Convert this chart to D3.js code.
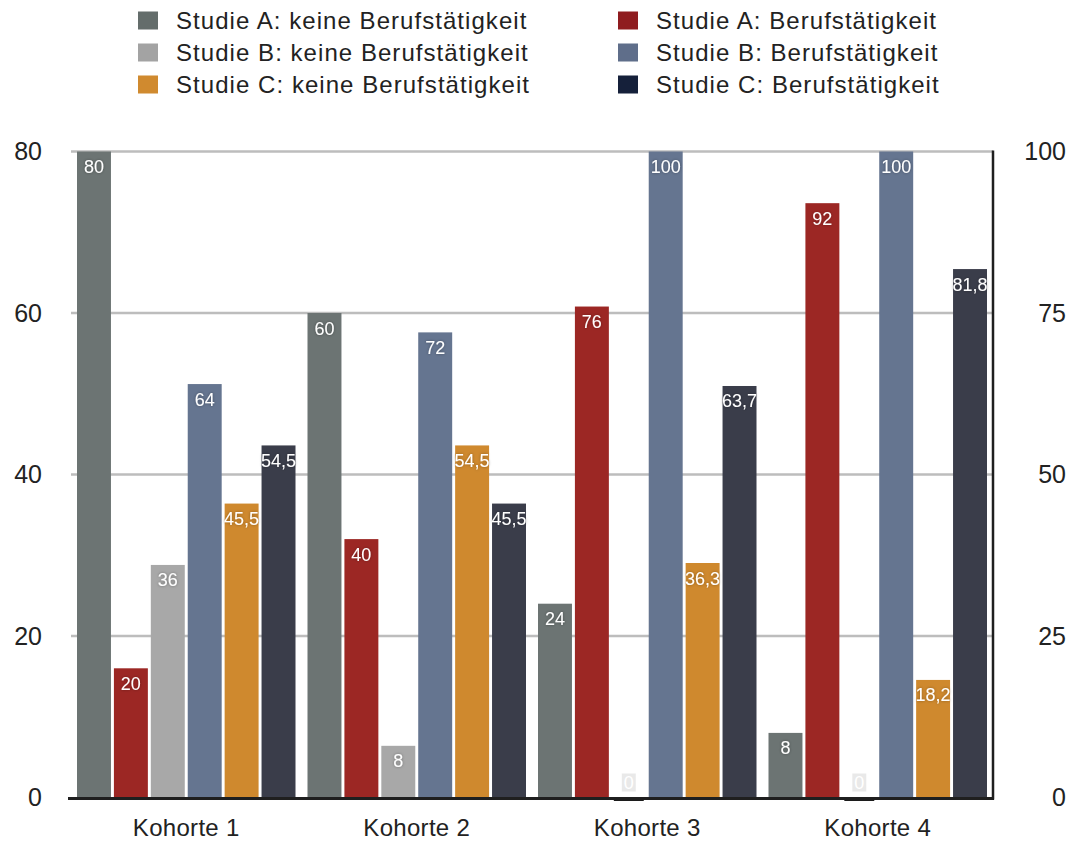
<!DOCTYPE html>
<html>
<head>
<meta charset="utf-8">
<script src="https://cdn.jsdelivr.net/npm/d3@7"></script>
<style>
  html, body { margin: 0; padding: 0; background: #fff; }
  svg { display: block; font-family: "Liberation Sans", Arial, Helvetica, sans-serif; }
</style>
</head>
<body>
<svg id="chart" width="1074" height="841"></svg>
<script>
// Kohorten (x categories)
const cohorts = ["Kohorte 1", "Kohorte 2", "Kohorte 3", "Kohorte 4"];

// Series names, in drawing order inside each cohort
const seriesNames = [
  "Studie A: keine Berufstätigkeit",
  "Studie A: Berufstätigkeit",
  "Studie B: keine Berufstätigkeit",
  "Studie B: Berufstätigkeit",
  "Studie C: keine Berufstätigkeit",
  "Studie C: Berufstätigkeit"
];

// Values per series (one per cohort)
const studieAKeine = [80, 60, 24, 8];
const studieABeruf = [20, 40, 76, 92];
const studieBKeine = [36, 8, 0, 0];
const studieBBeruf = [64, 72, 100, 100];
const studieCKeine = [45.5, 54.5, 36.3, 18.2];
const studieCBeruf = [54.5, 45.5, 63.7, 81.8];
const seriesValues = [studieAKeine, studieABeruf, studieBKeine, studieBBeruf, studieCKeine, studieCBeruf];

// Which y axis each series is plotted against
const seriesAxis = ["left", "right", "right", "right", "right", "right"];

// Axis ticks
const leftTicks = [0, 20, 40, 60, 80];
const rightTicks = [0, 25, 50, 75, 100];

// Colours
const barColors = ["#6c7473", "#9c2724", "#a8a8a8", "#657590", "#cf892e", "#3a3d4a"];
const swatchColors = ["#646d6b", "#8f1c1f", "#a3a3a3", "#5f6e8a", "#d08a2f", "#15203a"];

const svg = d3.select("#chart");

const plot = { left: 71, right: 993, top: 151.5, bottom: 797.5 };

// label glow
const defs = svg.append("defs");
const glow = defs.append("filter").attr("id", "glow")
  .attr("x", "-30%").attr("y", "-30%").attr("width", "160%").attr("height", "160%");
glow.append("feDropShadow").attr("dx", 0).attr("dy", 0)
  .attr("stdDeviation", 1.6).attr("flood-color", "#000").attr("flood-opacity", 0.35);

const x0 = d3.scaleBand().domain(cohorts).range([plot.left, plot.right]).padding(0);
const x1 = d3.scaleBand().domain(d3.range(seriesNames.length))
  .range([6, x0.bandwidth() - 6]).paddingInner(0.08);

const yLeft = d3.scaleLinear().domain([0, 80]).range([plot.bottom, plot.top]);
const yRight = d3.scaleLinear().domain([0, 100]).range([plot.bottom, plot.top]);
const yFor = i => seriesAxis[i] === "left" ? yLeft : yRight;

// gridlines
svg.append("g").selectAll("line").data(leftTicks.filter(t => t > 0)).join("line")
  .attr("x1", plot.left).attr("x2", plot.right)
  .attr("y1", d => yLeft(d)).attr("y2", d => yLeft(d))
  .attr("stroke", "#bdbdbd").attr("stroke-width", 2.5);

// left axis labels
const leftAxis = svg.append("g").attr("transform", `translate(${plot.left - 29},0)`)
  .call(d3.axisLeft(yLeft).tickValues(leftTicks).tickSize(0).tickPadding(0));
leftAxis.select(".domain").remove();
leftAxis.selectAll("text").attr("font-size", 25).attr("fill", "#222")
  .attr("font-family", "Liberation Sans, Arial, sans-serif");

// right axis labels
const rightAxis = svg.append("g").attr("transform", `translate(${plot.right + 73},0)`)
  .call(d3.axisLeft(yRight).tickValues(rightTicks).tickSize(0).tickPadding(0));
rightAxis.select(".domain").remove();
rightAxis.selectAll("text").attr("font-size", 25).attr("fill", "#222")
  .attr("font-family", "Liberation Sans, Arial, sans-serif");

// bars
const fmt = v => String(v).replace(".", ",");
const groups = svg.append("g").selectAll("g").data(cohorts).join("g")
  .attr("transform", d => `translate(${x0(d)},0)`);

groups.each(function(c, ci) {
  const g = d3.select(this);
  seriesValues.forEach((vals, si) => {
    const v = vals[ci];
    const y = yFor(si);
    const bx = x1(si), bw = x1.bandwidth();
    g.append("rect")
      .attr("x", bx).attr("width", bw)
      .attr("y", y(v)).attr("height", y(0) - y(v))
      .attr("fill", barColors[si]);
    if (v === 0) {
      g.append("rect").attr("x", bx + 2).attr("width", bw - 4)
        .attr("y", plot.bottom).attr("height", 3.5).attr("fill", "#1c1c1c");
    }
  });
});

// value labels
groups.each(function(c, ci) {
  const g = d3.select(this);
  seriesValues.forEach((vals, si) => {
    const v = vals[ci];
    const y = yFor(si);
    const cx = x1(si) + x1.bandwidth() / 2;
    const cy = v === 0 ? plot.bottom - 15 : y(v) + 15.5;
    const label = fmt(v);
    const t = g.append("text")
      .attr("x", cx).attr("y", cy)
      .attr("text-anchor", "middle").attr("dominant-baseline", "central")
      .attr("font-size", 18).attr("fill", "#fff")
      .attr("filter", "url(#glow)")
      .text(label);
    if (v === 0) {
      const bb = t.node().getBBox();
      g.insert("rect", () => t.node())
        .attr("x", bb.x - 2).attr("y", bb.y + 1).attr("width", bb.width + 4).attr("height", bb.height - 2)
        .attr("fill", "#e4e4e4").attr("opacity", 0.8);
      t.attr("filter", null);
    }
  });
});

// bottom axis line and right axis line
svg.append("line").attr("x1", plot.left - 3).attr("x2", plot.right + 1)
  .attr("y1", plot.bottom + 1).attr("y2", plot.bottom + 1)
  .attr("stroke", "#1f1f1f").attr("stroke-width", 3);
svg.append("line").attr("x1", plot.right).attr("x2", plot.right)
  .attr("y1", plot.top - 1).attr("y2", plot.bottom + 2)
  .attr("stroke", "#1f1f1f").attr("stroke-width", 2.5);

// cohort labels
const xAxis = svg.append("g").attr("transform", `translate(0,${plot.bottom + 30})`)
  .call(d3.axisBottom(x0).tickSize(0).tickPadding(0));
xAxis.select(".domain").remove();
xAxis.selectAll("text").attr("font-size", 24).attr("fill", "#222")
  .attr("letter-spacing", 0.3)
  .attr("dominant-baseline", "central").attr("dy", null)
  .attr("font-family", "Liberation Sans, Arial, sans-serif");

// legend: two columns, three rows
const legendCols = [138, 618];
const legendRows = [20.5, 52.5, 84.5];
const legend = svg.append("g").selectAll("g").data(seriesNames).join("g")
  .attr("transform", (d, i) => `translate(${legendCols[i % 2]},${legendRows[Math.floor(i / 2)]})`);
legend.append("rect").attr("x", 0).attr("y", -9).attr("width", 20).attr("height", 18)
  .attr("fill", (d, i) => swatchColors[i]);
legend.append("text").attr("x", 38).attr("y", 0)
  .attr("dominant-baseline", "central")
  .attr("font-size", 24).attr("letter-spacing", 1.05).attr("fill", "#222")
  .text(d => d);
</script>
</body>
</html>
